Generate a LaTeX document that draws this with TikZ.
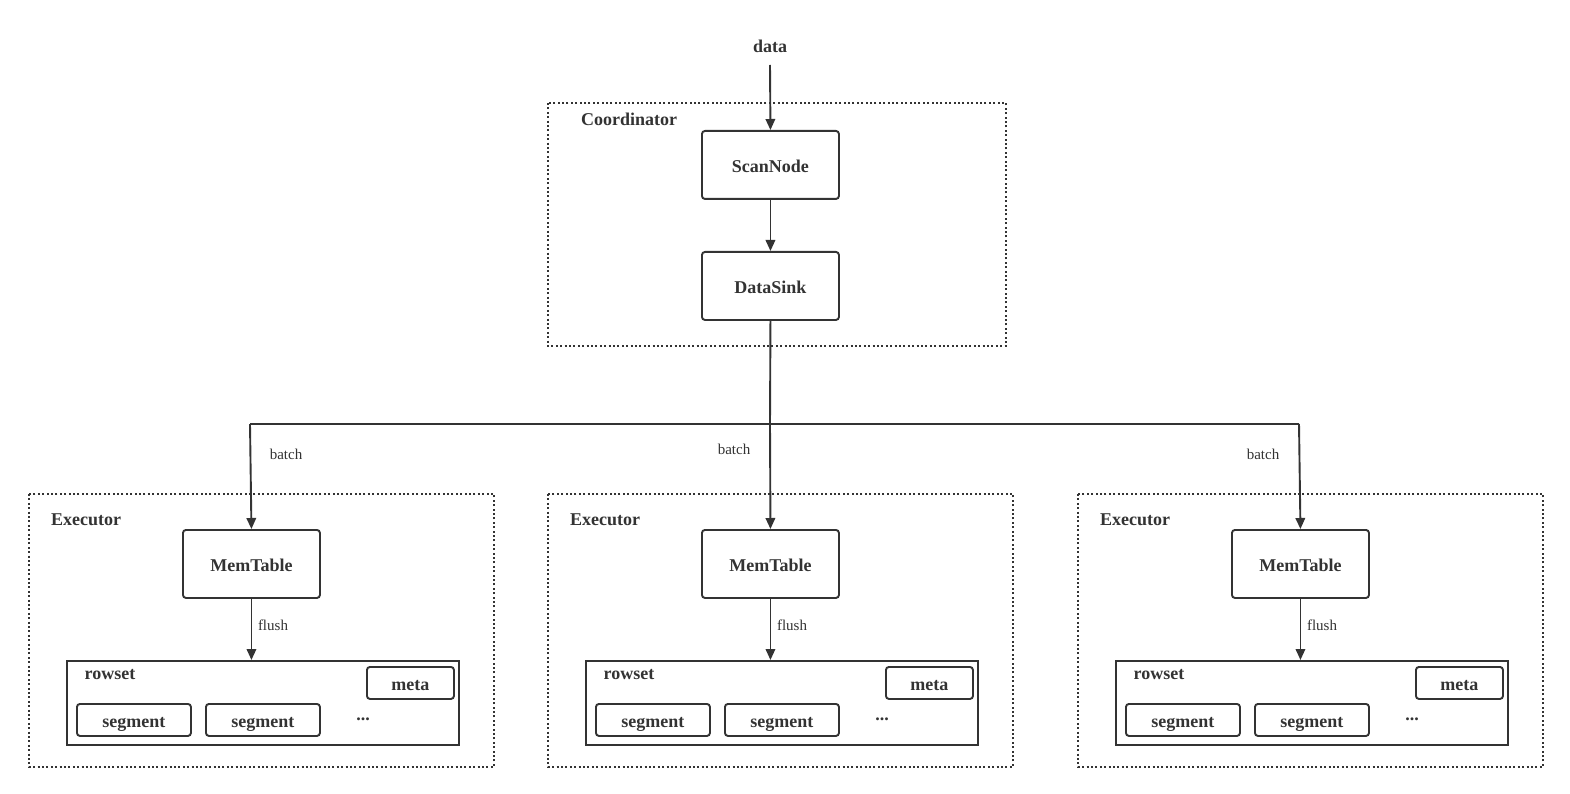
\documentclass[tikz,border=0pt]{standalone}
\usepackage{fontspec}
\setmainfont{Liberation Serif}
\usetikzlibrary{arrows.meta}
\definecolor{ink}{HTML}{333333}
\tikzset{
  box/.style={draw=ink, line width=1.9pt, rounded corners=3pt, inner sep=0pt, anchor=north west, font=\fontsize{18}{20}\selectfont\bfseries, text=ink, text height=15pt, text depth=0pt},
  group/.style={draw=ink, line width=1.9pt, dash pattern=on 2pt off 2.4pt},
  lbl/.style={font=\fontsize{18}{20}\selectfont\bfseries, text=ink, inner sep=0pt},
  small/.style={font=\fontsize{15}{17}\selectfont, text=ink, inner sep=0pt},
  arr/.style={draw=ink, line width=1.9pt, -{Triangle[length=11pt,width=9.5pt]}},
  ln/.style={draw=ink, line width=1.9pt},
}
\begin{document}
\begin{tikzpicture}[x=1pt,y=-1pt]
\useasboundingbox (0,0) rectangle (1570,794);
% top
\node[lbl] (data) at (770,46) {data};
\coordinate (dataend) at (770,65);
\draw[group] (548,103) rectangle (1006,346);
\node[lbl] (coord) at (629,119) {Coordinator};
\node[box, minimum width=137pt, minimum height=68pt] (scan) at (701,130) {ScanNode};
\node[box, minimum width=137pt, minimum height=68pt] (sink) at (701,251) {DataSink};
\draw[arr] (dataend) -- (scan.north);
\draw[arr] (scan.south) -- (sink.north);
\coordinate (hub) at (770,424);
\coordinate (hl) at (250,424);
\coordinate (hr) at (1299,424);
\draw[ln] (sink.south) -- (hub);
\draw[ln] (hl) -- (hr);
% executors
\foreach \i/\dx in {1/0, 2/519, 3/1049} {
  \begin{scope}[xshift=\dx]
    \draw[group] (29,494) rectangle (494,767);
    \node[lbl] (exec\i) at (86,520) {Executor};
    \node[box, minimum width=137pt, minimum height=68pt] (mem\i) at (182,529) {MemTable};
    \node[box, rounded corners=0pt, minimum width=392pt, minimum height=84pt] (rs\i) at (66,660) {};
    \node[lbl] (rsl\i) at (110,675) {rowset};
    \node[box, minimum width=87pt, minimum height=32pt] (meta\i) at (366,666) {meta};
    \node[box, minimum width=114pt, minimum height=32pt] (sega\i) at (76,703) {segment};
    \node[box, minimum width=114pt, minimum height=32pt] (segb\i) at (205,703) {segment};
    \node[lbl] (dots\i) at (363,719) {...};
    \draw[arr] (mem\i.south) -- (mem\i.south |- rs\i.north);
    \node[small] (flush\i) at (273,625) {flush};
  \end{scope}
}
\node[small] (b1) at (286,454) {batch};
\node[small] (b2) at (734,449) {batch};
\node[small] (b3) at (1263,454) {batch};
\draw[arr] (hl) -- (mem1.north);
\draw[arr] (hub) -- (mem2.north);
\draw[arr] (hr) -- (mem3.north);
\end{tikzpicture}
\end{document}
